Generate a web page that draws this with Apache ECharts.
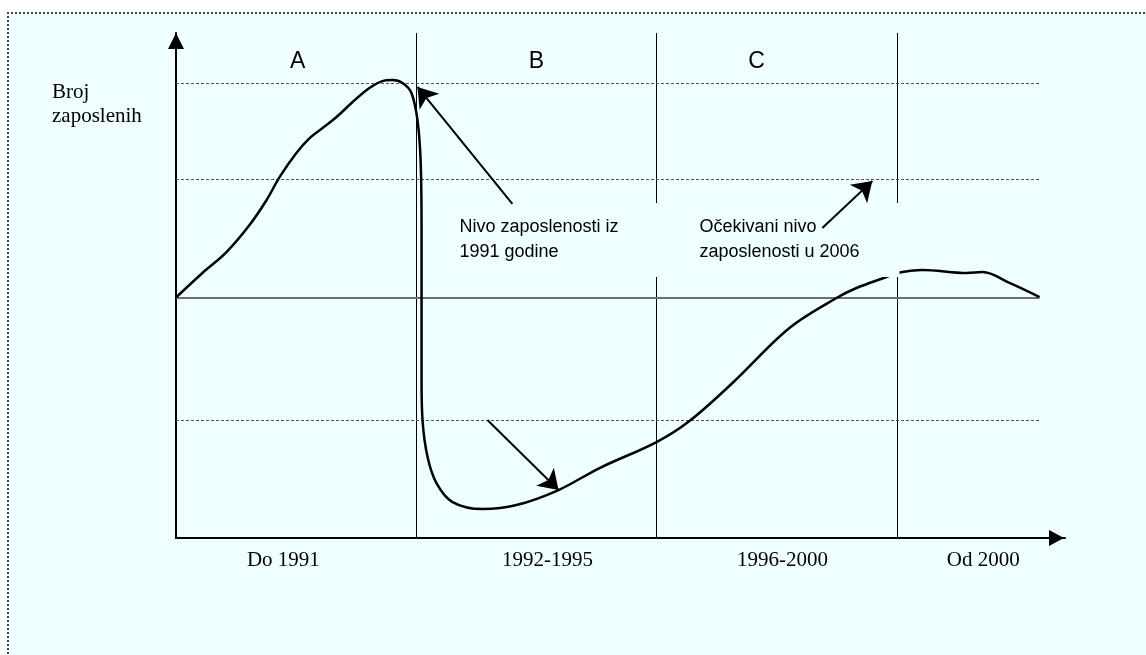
<!DOCTYPE html>
<html>
<head>
<meta charset="utf-8">
<script src="https://cdn.jsdelivr.net/npm/echarts@6/dist/echarts.min.js"></script>
<style>
  html, body { margin: 0; padding: 0; background: #ffffff; overflow: hidden; }
  #frame { position: absolute; left: 7px; top: 12px; width: 2000px; height: 2000px;
           border-left: 2px dotted #444; border-top: 2px dotted #444; background: #f0ffff; }
  #chart { position: absolute; left: 0; top: 0; width: 1146px; height: 655px; }
</style>
</head>
<body>
<div id="frame"></div>
<div id="chart"></div>
<script>
// x: periods (1 unit = one period), y: employment level (baseline = 2)
var curveX = [0, 0.110, 0.210, 0.306, 0.377, 0.431, 0.501, 0.556, 0.610, 0.668, 0.735, 0.805, 0.859, 0.901, 0.943, 0.980,
  1.005, 1.018, 1.022, 1.022, 1.022, 1.026, 1.047, 1.084, 1.151, 1.276, 1.417, 1.592, 1.763, 2.0, 2.137, 2.316, 2.553,
  2.749, 2.832, 2.957, 2.999, 3.107, 3.290, 3.357, 3.469, 3.594];
var curveY = [2.0, 2.204, 2.378, 2.603, 2.811, 3.002, 3.202, 3.326, 3.410, 3.501, 3.626, 3.742, 3.800, 3.809, 3.784, 3.701,
  3.476, 3.143, 2.586, 1.921, 1.314, 0.981, 0.674, 0.457, 0.299, 0.241, 0.274, 0.399, 0.582, 0.798, 0.973, 1.289, 1.746,
  1.996, 2.079, 2.171, 2.204, 2.229, 2.204, 2.212, 2.121, 2.004];

var dividers = [1, 2, 3];
var dashedLevels = [0.98, 2.98, 3.78];
var baseLevel = 2;
var lineEnd = 3.594;

var sectionNames = ['A', 'B', 'C'];
var sectionX = [0.506, 1.5, 2.416];
var sectionY = 3.958;

var periodNames = ['Do 1991', '1992-1995', '1996-2000', 'Od 2000'];
var periodX = [0.447, 1.546, 2.524, 3.360];
var periodY = -0.19;

var noteTexts = ['Nivo zaposlenosti iz\n1991 godine', 'Očekivani nivo\nzaposlenosti u 2006'];
var noteX = [1.117, 2.116];
var noteY = [2.786, 2.786];
var notePadRight = [44, 40];

var arrowFrom = [[1.400, 2.778], [1.296, 0.981], [2.690, 2.578]];
var arrowTo = [[1.005, 3.751], [1.592, 0.399], [2.898, 2.969]];

var chart = echarts.init(document.getElementById('chart'));

var guideLines = [];
dividers.forEach(function (x) {
  guideLines.push([{ coord: [x, 0], lineStyle: { color: '#000', width: 1, type: 'solid' } }, { coord: [x, 4.2] }]);
});
dashedLevels.forEach(function (y) {
  guideLines.push([{ coord: [0, y], lineStyle: { color: '#555', width: 1, type: [3, 2] } }, { coord: [lineEnd, y] }]);
});
guideLines.push([{ coord: [0, baseLevel], lineStyle: { color: '#707070', width: 2, type: 'solid' } }, { coord: [lineEnd, baseLevel] }]);

var option = {
  animation: false,
  backgroundColor: 'transparent',
  grid: { left: 176, right: 81, top: 33, bottom: 117 },
  xAxis: {
    type: 'value', min: 0, max: 3.7,
    axisLine: { lineStyle: { color: '#000', width: 2 }, symbol: ['none', 'triangle'], symbolSize: [16, 15], symbolOffset: [0, -8.5] },
    axisTick: { show: false }, axisLabel: { show: false }, splitLine: { show: false }
  },
  yAxis: {
    type: 'value', min: 0, max: 4.2,
    axisLine: { show: true, lineStyle: { color: '#000', width: 2 }, symbol: ['none', 'triangle'], symbolSize: [16, 16], symbolOffset: [0, -8] },
    axisTick: { show: false }, axisLabel: { show: false }, splitLine: { show: false }
  },
  graphic: [{
    type: 'text', left: 52, top: 80,
    style: { text: 'Broj\nzaposlenih', font: '21px "Liberation Serif"', lineHeight: 24, fill: '#000' }
  }],
  series: [
    {
      type: 'line', z: 2, symbol: 'none', smooth: 0.35,
      lineStyle: { color: '#000', width: 2.5 },
      data: curveX.map(function (x, i) { return [x, curveY[i]]; }),
      markLine: { z: 1, silent: true, symbol: 'none', label: { show: false }, animation: false, data: guideLines }
    },
    {
      type: 'scatter', z: 3, symbolSize: 0, clip: false, silent: true, itemStyle: { opacity: 1 },
      data: sectionX.map(function (x, i) { return { value: [x, sectionY], name: sectionNames[i] }; }),
      label: { show: true, position: 'inside', formatter: '{b}', color: '#000', fontFamily: 'Liberation Sans', fontSize: 23 }
    },
    {
      type: 'scatter', z: 3, symbolSize: 0, clip: false, silent: true, itemStyle: { opacity: 1 },
      data: periodX.map(function (x, i) { return { value: [x, periodY], name: periodNames[i] }; }),
      label: { show: true, position: 'inside', formatter: '{b}', color: '#000', fontFamily: 'Liberation Serif', fontSize: 21 }
    },
    {
      type: 'scatter', z: 4, symbolSize: 0, clip: false, silent: true, itemStyle: { opacity: 1 },
      data: noteX.map(function (x, i) {
        return { value: [x, noteY[i]], name: noteTexts[i], label: { padding: [12, notePadRight[i], 12, 15] } };
      }),
      label: {
        show: true, position: [0, 0], align: 'left', verticalAlign: 'top', formatter: '{b}',
        color: '#000', fontFamily: 'Liberation Sans', fontSize: 18, lineHeight: 25,
        backgroundColor: '#f0ffff'
      }
    },
    {
      type: 'lines', coordinateSystem: 'cartesian2d', z: 6, silent: true,
      symbol: ['none', 'arrow'], symbolSize: [15, 19],
      lineStyle: { color: '#000', width: 2, opacity: 1 },
      data: arrowFrom.map(function (p, i) { return { coords: [p, arrowTo[i]] }; })
    }
  ]
};
chart.setOption(option);
</script>
</body>
</html>
